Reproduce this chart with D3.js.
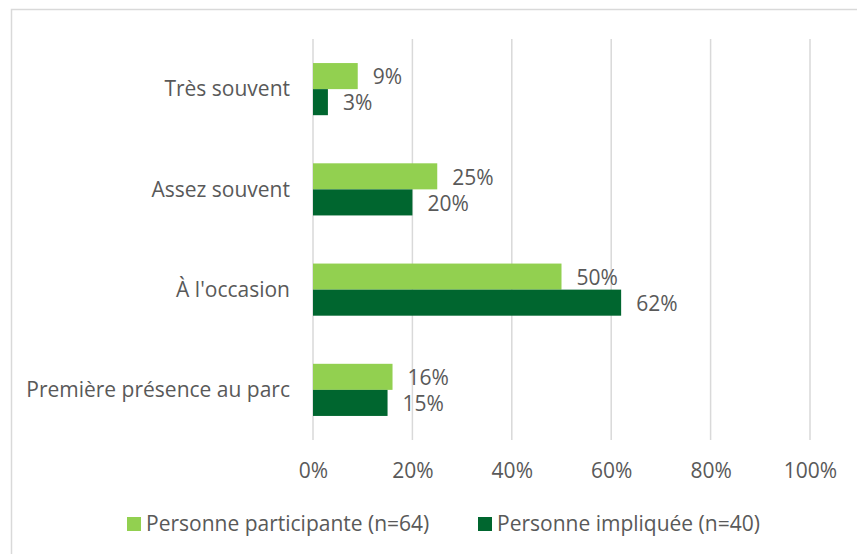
<!DOCTYPE html>
<html>
<head>
<meta charset="utf-8">
<script src="https://cdn.jsdelivr.net/npm/d3@7"></script>
<style>
  html, body { margin: 0; padding: 0; background: #fff; }
  svg text { font-family: "Open Sans", "Liberation Sans", sans-serif; fill: #595959; }
</style>
</head>
<body>
<svg id="chart" width="857" height="554"></svg>
<script>
// Fréquence de présence au parc, par type de personne
const categories = ["Très souvent", "Assez souvent", "À l'occasion", "Première présence au parc"];
const seriesNames = ["Personne participante (n=64)", "Personne impliquée (n=40)"];
const participante = [9, 25, 50, 16];
const impliquee = [3, 20, 62, 15];
const tickValues = [0, 20, 40, 60, 80, 100];
const colors = ["#92D050", "#00662F"];

const svg = d3.select("#chart");
const W = 857, H = 554;
const FS = 21;

// outer frame
svg.append("rect")
  .attr("x", 11.5).attr("y", 9.5)
  .attr("width", W + 10).attr("height", H + 10)
  .attr("fill", "#fff").attr("stroke", "#d9d9d9").attr("stroke-width", 1.5);

const plot = { left: 313, right: 810, top: 39, bottom: 440 };

const x = d3.scaleLinear().domain([0, 100]).range([plot.left, plot.right]);
const y = d3.scaleBand().domain(categories).range([plot.top, plot.bottom]).paddingInner(0.48).paddingOuter(0.24);
const sub = d3.scaleBand().domain([0, 1]).range([0, y.bandwidth()]);

// vertical gridlines
svg.append("g").selectAll("line").data(tickValues).join("line")
  .attr("x1", d => x(d)).attr("x2", d => x(d))
  .attr("y1", plot.top).attr("y2", plot.bottom)
  .attr("stroke", "#d9d9d9").attr("stroke-width", 1.5);

// x axis labels
const xAxis = d3.axisBottom(x).tickValues(tickValues).tickFormat(d => d + "%").tickSize(0).tickPadding(0);
const gx = svg.append("g").attr("transform", `translate(0,${plot.bottom})`).call(xAxis);
gx.select(".domain").remove();
gx.selectAll("text").attr("y", 31).attr("dy", "0.35em").attr("font-size", FS).style("fill", "#595959");

// category labels
const yAxis = d3.axisLeft(y).tickSize(0).tickPadding(0);
const gy = svg.append("g").attr("transform", `translate(${plot.left - 23},0)`).call(yAxis);
gy.select(".domain").remove();
gy.selectAll("text").attr("font-size", FS).attr("dy", "0.35em").style("fill", "#595959");

const rows = categories.map((c, i) => ({ cat: c, vals: [participante[i], impliquee[i]] }));

const groups = svg.append("g").selectAll("g").data(rows).join("g")
  .attr("transform", d => `translate(0,${y(d.cat)})`);

groups.selectAll("rect").data(d => d.vals.map((v, k) => ({ v, k }))).join("rect")
  .attr("x", x(0))
  .attr("y", d => sub(d.k))
  .attr("width", d => x(d.v) - x(0))
  .attr("height", sub.bandwidth())
  .attr("fill", d => colors[d.k]);

groups.selectAll("text.val").data(d => d.vals.map((v, k) => ({ v, k }))).join("text")
  .attr("class", "val")
  .attr("x", d => x(d.v) + 15)
  .attr("y", d => sub(d.k) + sub.bandwidth() / 2 + 1)
  .attr("dy", "0.35em")
  .attr("font-size", FS)
  .text(d => d.v + "%");

// legend
const legendItems = [{ name: seriesNames[0], x: 127 }, { name: seriesNames[1], x: 478 }];
const lg = svg.append("g").selectAll("g").data(legendItems).join("g")
  .attr("transform", d => `translate(${d.x},517)`);
lg.append("rect").attr("width", 14).attr("height", 14).attr("fill", (d, i) => colors[i]);
lg.append("text").attr("x", 19).attr("y", 7).attr("dy", "0.35em").attr("font-size", FS).text(d => d.name);
</script>
</body>
</html>
